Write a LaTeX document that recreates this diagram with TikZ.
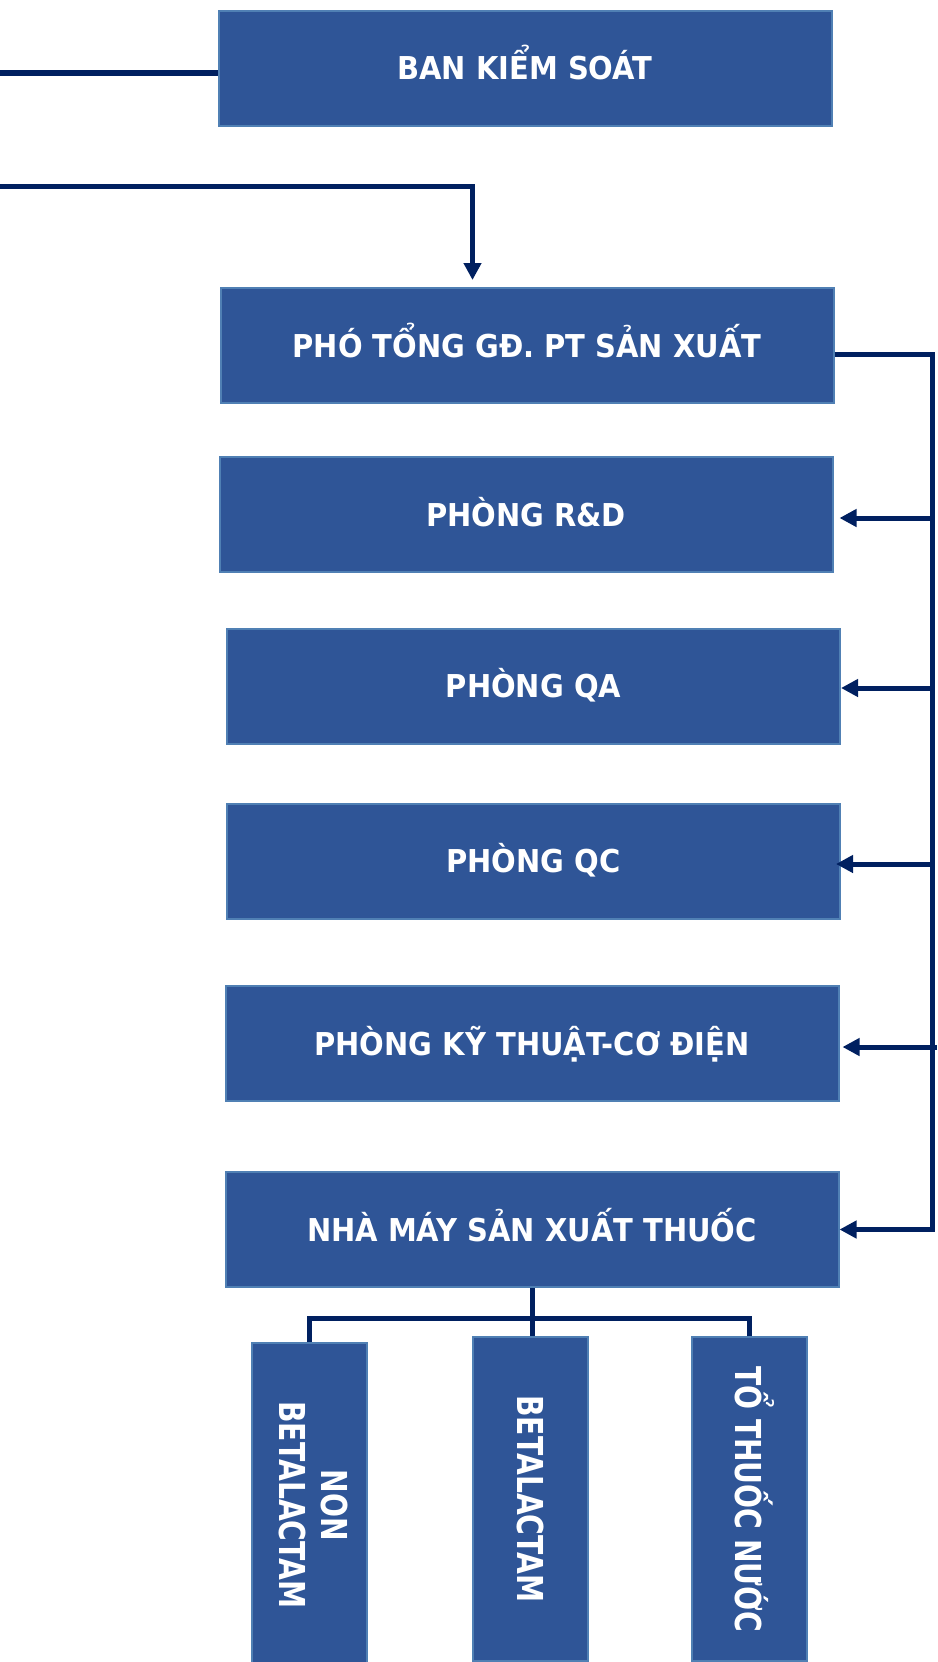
\documentclass[tikz,border=0pt]{standalone}
\usepackage{fontspec}
\usepackage{graphicx}
\usepackage{xcolor}
\setmainfont{DejaVu Sans}[FakeStretch=0.92]
\newfontfamily\colfont{DejaVu Sans}[FakeStretch=0.79]
\definecolor{boxblue}{HTML}{2F5597}
\definecolor{boxedge}{HTML}{5080B4}
\definecolor{navy}{HTML}{002060}
\usetikzlibrary{positioning, calc, arrows.meta}
\newcommand{\capline}[1]{\raisebox{0pt}[0.729em][0pt]{#1}}

\begin{document}
\begin{tikzpicture}[
x=1pt, y=1pt,
hbox/.style={rectangle, draw=boxedge, line width=2pt, fill=boxblue, text=white, minimum width=613pt, minimum height=115pt, text height=23pt, text depth=0pt, font=\fontsize{31.5}{36}\selectfont\bfseries},
vbox/.style={rectangle, draw=boxedge, line width=2pt, fill=boxblue, text=white, minimum width=115pt, minimum height=324pt, font=\colfont\bfseries\fontsize{35.7}{42.5}\selectfont},
link/.style={draw=navy, line width=5pt},
arr/.style={link, -{Triangle[length=17pt, width=17pt]}}
]
\path[use as bounding box, fill=white] (0,0) rectangle (937,-1662);

% Top boxes
\node[hbox] (bks) at (525,-68.5) {BAN KIỂM SOÁT};
\node[hbox] (pho) [below=160pt of bks, xshift=2pt] {PHÓ TỔNG GĐ. PT SẢN XUẤT};

% Departments
\node[hbox] (rd) [below=52pt of pho, xshift=-1pt] {PHÒNG R\&D};
\node[hbox] (qa) [below=54.5pt of rd, xshift=7.5pt] {PHÒNG QA};
\node[hbox] (qc) [below=58pt of qa] {PHÒNG QC};
\node[hbox] (kt) [below=65.5pt of qc, xshift=-1.5pt] {PHÒNG KỸ THUẬT-CƠ ĐIỆN};
\node[hbox] (nm) [below=69pt of kt] {NHÀ MÁY SẢN XUẤT THUỐC};

% Workshops
\node[vbox] (beta) [below=48pt of nm, xshift=-1.5pt] {\rotatebox{-90}{\capline{BETALACTAM}}};
\node[vbox] (non) [left=104.5pt of beta, yshift=-6pt] {\rotatebox{-90}{\begin{tabular}{@{}c@{}}NON\\BETALACTAM\end{tabular}}};
\node[vbox] (to) [right=101.5pt of beta] {\rotatebox{-90}{\capline{TỔ THUỐC NƯỚC}}};

% Incoming lines
\coordinate (bksin) at (0,-73);
\coordinate (gdin) at (0,-186);
\draw[link] (bksin) -- (bksin -| bks.west);
\draw[arr] (gdin) -| ([xshift=-54.5pt, yshift=7pt]pho.north);

% Right bus
\draw[arr] ([yshift=-9pt]pho.east) -- ++(97.5,0) coordinate (bus) |- (nm.east);
\draw[arr] (bus |- rd.east) ++(0,-3.5) -- ([xshift=6pt, yshift=-3.5pt]rd.east);
\draw[arr] (bus |- qa.east) ++(0,-2) -- ([yshift=-2pt]qa.east);
\draw[arr] (bus |- qc.east) ++(0,-3) -- ([xshift=-5pt, yshift=-3pt]qc.east);
\draw[arr] ($(bus |- kt.east)+(5,-3.5)$) -- ([xshift=3pt, yshift=-3.5pt]kt.east);

% Bottom tree
\draw[link] (nm.south) -- (nm.south |- beta.north);
\coordinate (tree) at ($(nm.south)+(0,-30)$);
\draw[link] (non.north) |- (tree) -| (to.north);
\end{tikzpicture}
\end{document}
